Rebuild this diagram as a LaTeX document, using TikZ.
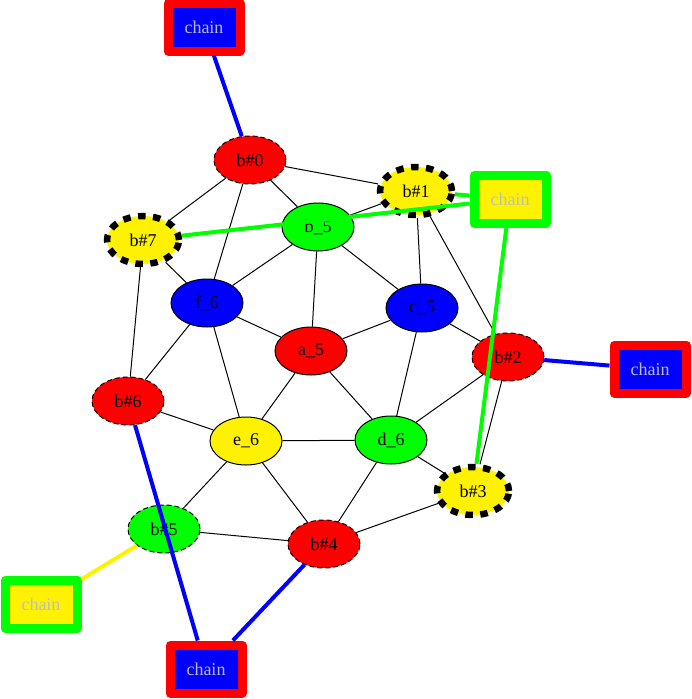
\documentclass[tikz,border=0pt]{standalone}
\usepackage{fontspec}
\setmainfont{Liberation Serif}
\usetikzlibrary{shapes.geometric}
\definecolor{chaingray}{RGB}{190,190,190}
\begin{document}
\begin{tikzpicture}[x=1pt, y=-1pt,
	vtx/.style={ellipse, draw, line width=1pt, minimum width=72pt, minimum height=48pt, inner sep=0pt, font=\fontsize{18}{20}\selectfont},
	thindash/.style={vtx, dash pattern=on 5pt off 3pt},
	fatdash/.style={vtx, line width=6.5pt, dash pattern=on 7.5pt off 7.5pt},
	chainbox/.style={rectangle, line width=9pt, line join=round, minimum width=72pt, minimum height=48pt, inner sep=0pt, text=chaingray, font=\fontsize{18}{20}\selectfont},
	link/.style={line width=1pt},
	chainlink/.style={line width=4pt}]
			\useasboundingbox (0,0) rectangle (692,699);
			
			%inner ring
			\node (a5) at (311,351) [vtx, fill=red]{a\_5};
			\node (b5) at (318,227) [vtx, fill=green]{b\_5};
			\node (c5) at (422,308) [vtx, fill=blue]{c\_5};
			\node (d6) at (391,440) [vtx, fill=green]{d\_6};
			\node (e6) at (246,441) [vtx, fill=yellow]{e\_6};
			\node (f6) at (207,303) [vtx, fill=blue]{f\_6};
			
			%outer ring
			\node (bh0) at (250,160) [thindash, fill=red]{b\#0};
			\node (bh1) at (416,191) [fatdash, fill=yellow]{b\#1};
			\node (bh2) at (508,357) [thindash, fill=red]{b\#2};
			\node (bh3) at (473,491) [fatdash, fill=yellow]{b\#3};
			\node (bh4) at (324,544) [thindash, fill=red]{b\#4};
			\node (bh5) at (164,529) [thindash, fill=green]{b\#5};
			\node (bh6) at (128,401) [thindash, fill=red]{b\#6};
			\node (bh7) at (143,240) [fatdash, fill=yellow]{b\#7};
			
			%chains
			\node (chtop) at (204,27) [chainbox, draw=red, fill=blue]{chain};
			\node (chright) at (510,199) [chainbox, draw=green, fill=yellow]{chain};
			\node (chmid) at (650,369) [chainbox, draw=red, fill=blue]{chain};
			\node (chleft) at (41,604) [chainbox, draw=green, fill=yellow]{chain};
			\node (chbot) at (206,669) [chainbox, draw=red, fill=blue]{chain};
			
			\foreach \u/\v in {bh0/bh1, bh0/bh7, bh0/f6, bh0/b5, bh1/b5, bh1/c5, bh1/bh2,
				bh7/f6, bh7/bh6, b5/f6, b5/a5, b5/c5, f6/a5, f6/bh6, f6/e6,
				c5/a5, c5/bh2, c5/d6, a5/e6, a5/d6, bh2/d6, bh2/bh3, bh6/e6,
				e6/d6, e6/bh5, e6/bh4, d6/bh3, d6/bh4, bh5/bh4, bh4/bh3}{
				\draw[link] (\u) -- (\v);
			}
			
			\draw[chainlink, blue] (chtop) -- (bh0);
			\draw[chainlink, green] (chright) -- (bh1);
			\draw[chainlink, green] (chright) -- (bh7);
			\draw[chainlink, green] (chright) -- (bh3);
			\draw[chainlink, blue] (bh2) -- (chmid);
			\draw[chainlink, yellow] (bh5) -- (chleft);
			\draw[chainlink, blue] (bh6) -- (chbot);
			\draw[chainlink, blue] (bh4) -- (chbot);
		\end{tikzpicture}
\end{document}
